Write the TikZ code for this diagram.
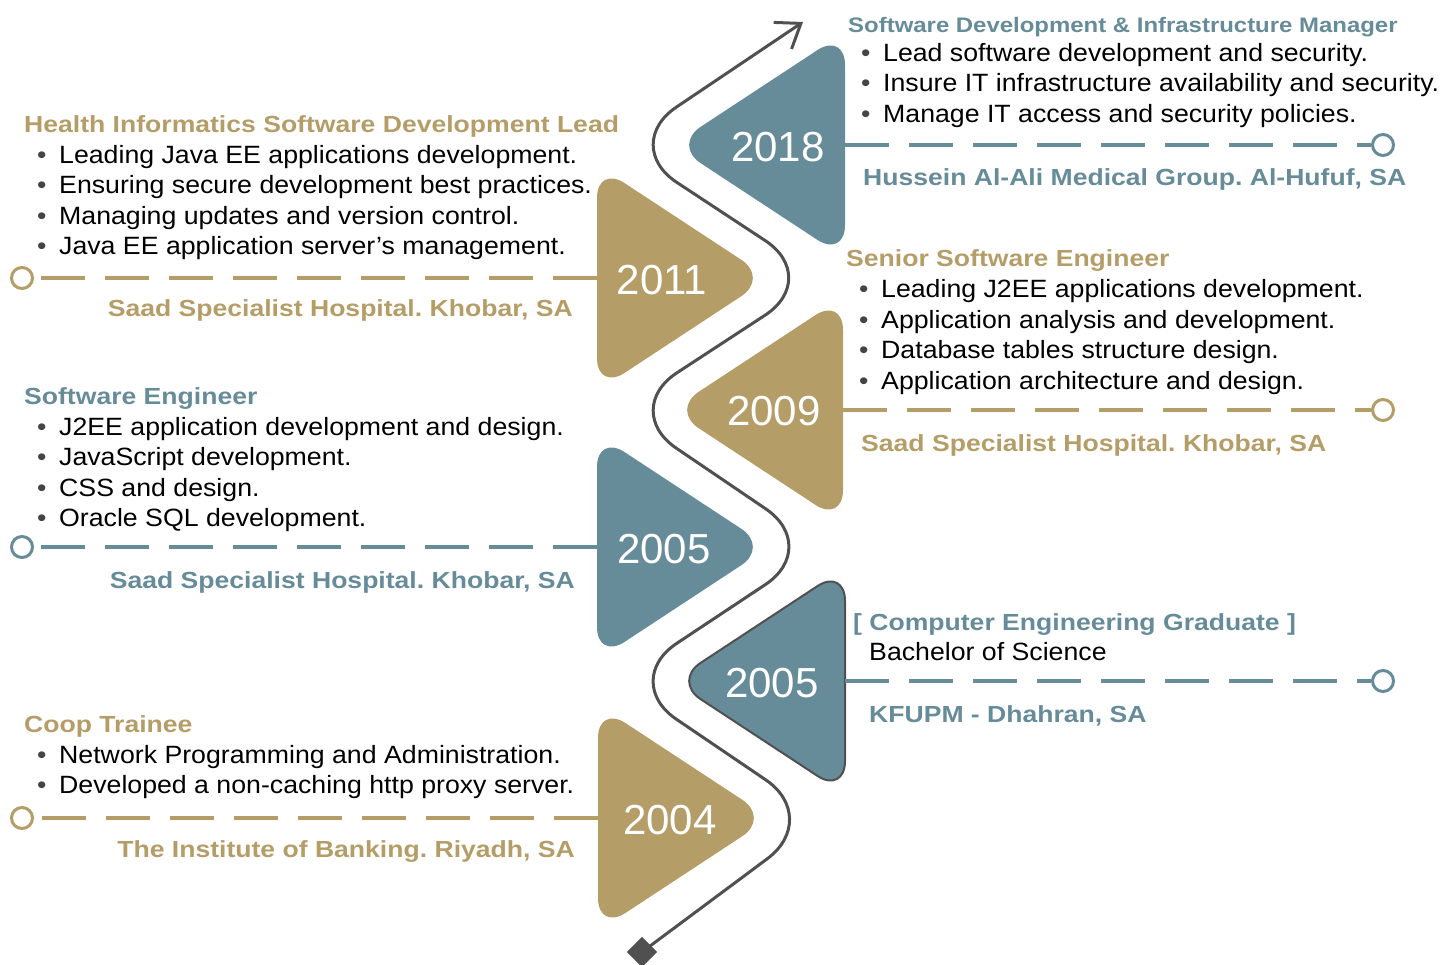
\documentclass[tikz,border=0pt]{standalone}
\usepackage{fontspec}
\setmainfont{Liberation Sans}
\newfontfamily\bodyfont[FakeStretch=1.068]{Liberation Sans}
\newfontfamily\ttlfont[FakeStretch=1.14]{Liberation Sans}
\usetikzlibrary{arrows.meta}
\definecolor{tealc}{HTML}{668B99}
\definecolor{goldc}{HTML}{B59D68}
\definecolor{pathgray}{HTML}{505050}
\definecolor{bulgray}{HTML}{444444}
\newcommand\rtri[3]{\fill[#3, rounded corners=33pt] (#1,#2) -- (#1,#2-113) -- (#1+172,#2) -- (#1,#2+113) -- cycle;}
\newcommand\ltri[3]{\fill[#3, rounded corners=33pt] (#1,#2) -- (#1,#2-113) -- (#1-172,#2) -- (#1,#2+113) -- cycle;}
\newcommand\bl[1]{\makebox[22pt][l]{\textcolor{bulgray}{\textbullet}}#1}
\frenchspacing
\begin{document}
\begin{tikzpicture}[x=1pt,y=-1pt,
  body/.style={font=\bodyfont\fontsize{25}{30}\selectfont, text=black, inner sep=0pt, anchor=base west},
  ttl/.style={font=\ttlfont\fontsize{23.3}{28}\selectfont\bfseries, inner sep=0pt, anchor=base west},
  ttlr/.style={ttl, anchor=base east},
  year/.style={font=\fontsize{42}{42}\selectfont, text=white, inner sep=0pt},
  endc/.style={circle, draw=#1, fill=white, line width=3pt, minimum size=21pt, inner sep=0pt},
  dline/.style={draw=#1, line width=4pt, dash pattern=on 44pt off 20pt},
  wave/.style={draw=pathgray, line width=3pt, rounded corners=68pt}]
\useasboundingbox (0,0) rectangle (1442,965);

% triangles
\ltri{845}{145}{tealc}
\rtri{597}{278}{goldc}
\ltri{843}{410}{goldc}
\rtri{597}{547}{tealc}
\ltri{845}{681}{tealc}
\draw[pathgray, line width=2pt, rounded corners=33pt] (845,681) -- (845,568) -- (673,681) -- (845,794) -- cycle;
\rtri{598}{818}{goldc}

% wave path
\coordinate (tip) at (803,22);
\node[rectangle, rotate=45, fill=pathgray, minimum size=21pt, inner sep=0pt] (dia) at (642,952) {};
\draw[wave, -{Straight Barb[length=22pt, width=32pt, line width=3pt]}] (dia.center) -- (822,818) -- (620,681) -- (822,547) -- (620,410) -- (822,278) -- (620,145) -- (tip);
\node[rectangle, rotate=45, fill=pathgray, minimum size=21pt, inner sep=0pt] at (642,952) {};

% years
\node[year] (y2018) at (778,147) {2018};
\node[year] (y2011) at (662,280) {2011};
\node[year] (y2009) at (774,411) {2009};
\node[year] (y2005a) at (664,549) {2005};
\node[year] (y2005b) at (772,683) {2005};
\node[year] (y2004) at (670,820) {2004};

% dashed connectors
\coordinate (e2018) at (845,145);
\node[endc=tealc] (o2018) at (1383,145) {};
\draw[dline=tealc] (e2018) -- (o2018);
\coordinate (e2011) at (597,278);
\node[endc=goldc] (o2011) at (22,278) {};
\draw[dline=goldc] (e2011) -- (o2011);
\coordinate (e2009) at (843,410);
\node[endc=goldc] (o2009) at (1383,410) {};
\draw[dline=goldc] (e2009) -- (o2009);
\coordinate (e2005a) at (597,547);
\node[endc=tealc] (o2005a) at (22,547) {};
\draw[dline=tealc] (e2005a) -- (o2005a);
\coordinate (e2005b) at (845,681);
\node[endc=tealc] (o2005b) at (1383,681) {};
\draw[dline=tealc] (e2005b) -- (o2005b);
\coordinate (e2004) at (598,818);
\node[endc=goldc] (o2004) at (22,818) {};
\draw[dline=goldc] (e2004) -- (o2004);

% left block 1
\node[ttl, text=goldc] (t1) at (24,133) {Health Informatics Software Development Lead};
\node[body] (b11) at (37,164) {\bl{Leading Java EE applications development.}};
\node[body] (b12) at (37,194) {\bl{Ensuring secure development best practices.}};
\node[body] (b13) at (37,225) {\bl{Managing updates and version control.}};
\node[body] (b14) at (37,255) {\bl{Java EE application server’s management.}};
\node[ttlr, text=goldc] (p1) at (573,317) {Saad Specialist Hospital. Khobar, SA};

% left block 2
\node[ttl, text=tealc] (t2) at (24,404) {Software Engineer};
\node[body] (b21) at (37,435) {\bl{J2EE application development and design.}};
\node[body] (b22) at (37,465) {\bl{JavaScript development.}};
\node[body] (b23) at (37,496) {\bl{CSS and design.}};
\node[body] (b24) at (37,526) {\bl{Oracle SQL development.}};
\node[ttlr, text=tealc] (p2) at (575,588) {Saad Specialist Hospital. Khobar, SA};

% left block 3
\node[ttl, text=goldc] (t3) at (24,732) {Coop Trainee};
\node[body] (b31) at (37,763) {\bl{Network Programming and Administration.}};
\node[body] (b32) at (37,793) {\bl{Developed a non-caching http proxy server.}};
\node[ttlr, text=goldc] (p3) at (575,857) {The Institute of Banking. Riyadh, SA};

% right block 1
\node[ttl, font=\ttlfont\fontsize{21}{26}\selectfont\bfseries, text=tealc] (t4) at (848,33) {Software Development \& Infrastructure Manager};
\node[body] (b41) at (861,62) {\bl{Lead software development and security.}};
\node[body] (b42) at (861,92) {\bl{Insure IT infrastructure availability and security.}};
\node[body] (b43) at (861,123) {\bl{Manage IT access and security policies.}};
\node[ttl, text=tealc] (p4) at (863,186) {Hussein Al-Ali Medical Group. Al-Hufuf, SA};

% right block 2
\node[ttl, text=goldc] (t5) at (846,267) {Senior Software Engineer};
\node[body] (b51) at (859,298) {\bl{Leading J2EE applications development.}};
\node[body] (b52) at (859,328) {\bl{Application analysis and development.}};
\node[body] (b53) at (859,359) {\bl{Database tables structure design.}};
\node[body] (b54) at (859,389) {\bl{Application architecture and design.}};
\node[ttl, text=goldc] (p5) at (861,451) {Saad Specialist Hospital. Khobar, SA};

% right block 3
\node[ttl, text=tealc] (t6) at (853,630) {[ Computer Engineering Graduate ]};
\node[body] (b61) at (869,660) {Bachelor of Science};
\node[ttl, text=tealc] (p6) at (869,722) {KFUPM - Dhahran, SA};
\end{tikzpicture}
\end{document}
